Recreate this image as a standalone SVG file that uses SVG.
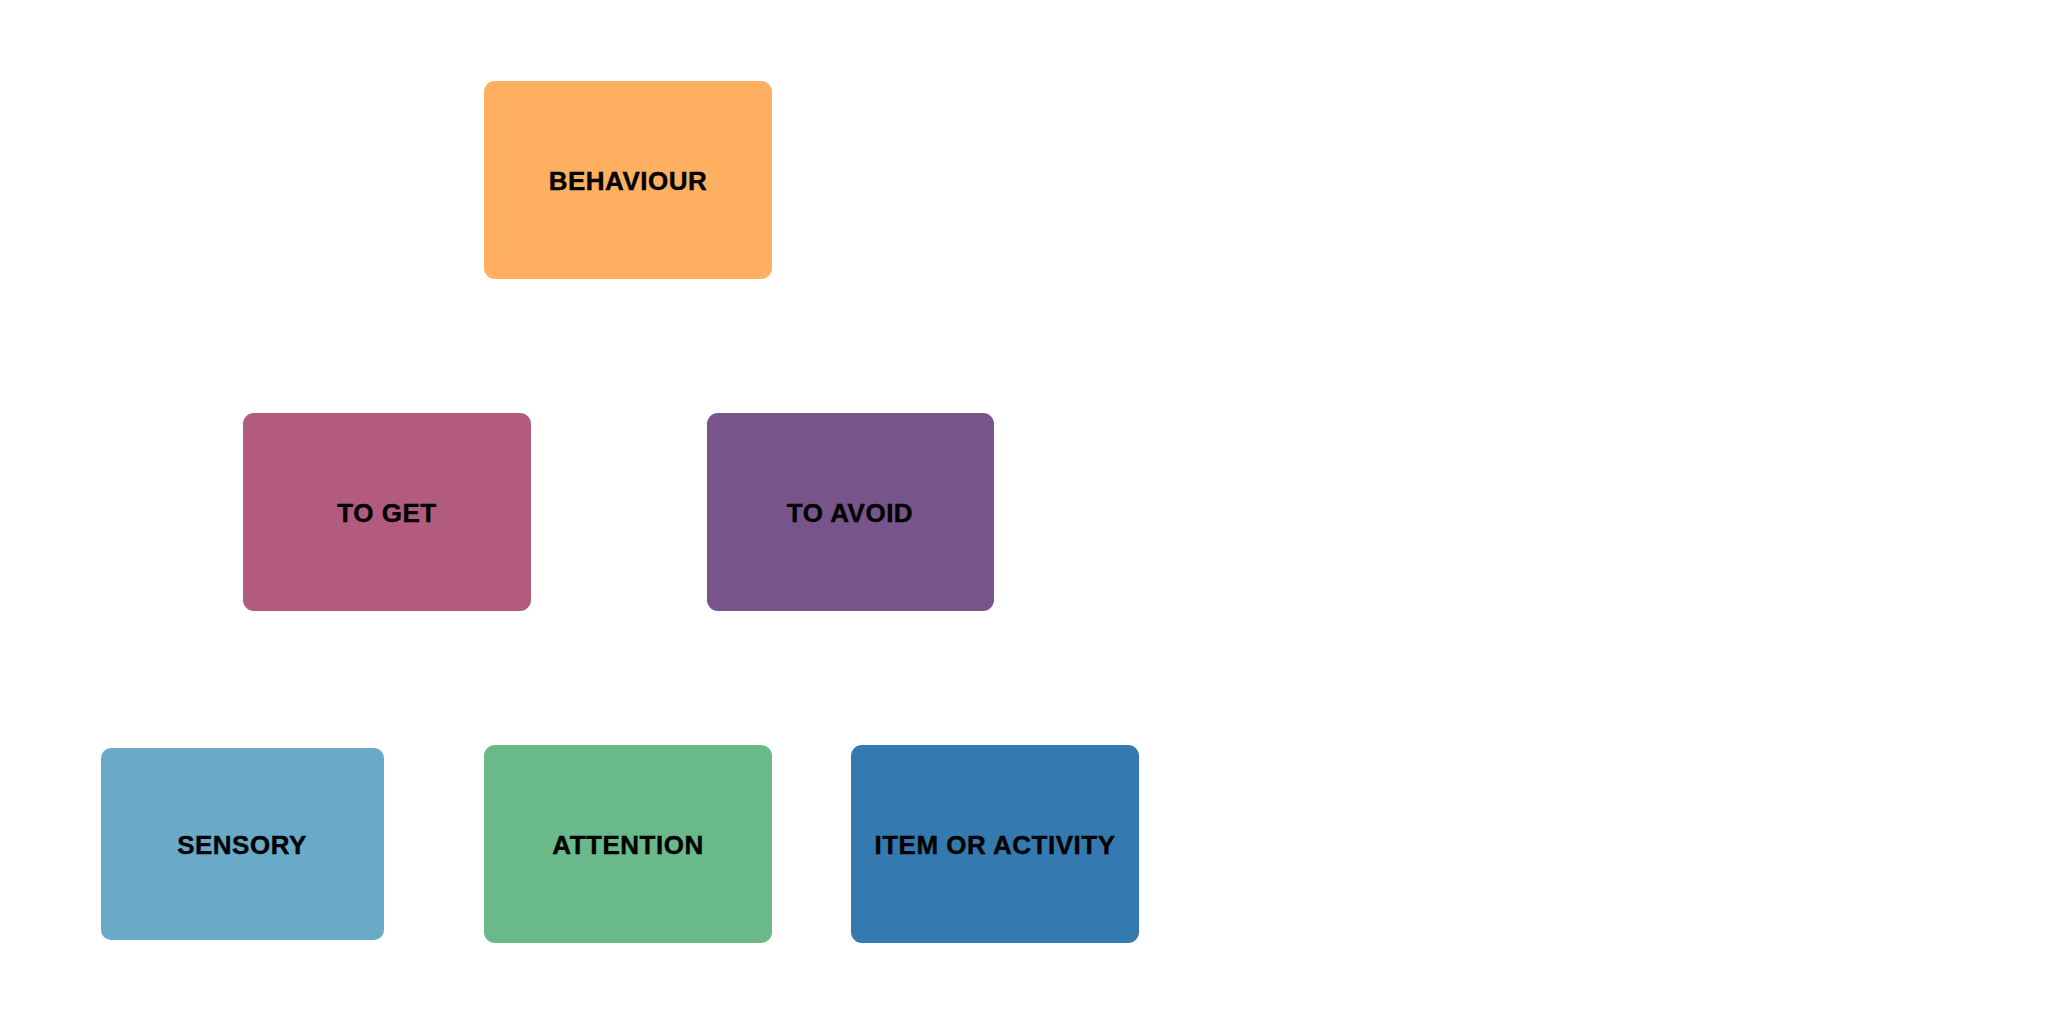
<svg xmlns="http://www.w3.org/2000/svg" width="2048" height="1024" viewBox="0 0 2048 1024">
  <style>
    .box { stroke: none; }
    .label { font-family: "Liberation Sans", Arial, sans-serif; font-weight: bold; font-size: 26px; letter-spacing: 0.5px; fill: #000; stroke: #000; stroke-width: 0.4; text-anchor: middle; }
  </style>
  <rect width="2048" height="1024" fill="#ffffff"/>
  <g id="connectors"></g>
  <g id="behaviour">
    <rect class="box" x="484" y="81" width="288" height="198" rx="11" fill="#FEAF5F"/>
    <text class="label" x="628" y="190">BEHAVIOUR</text>
  </g>
  <g id="to-get">
    <rect class="box" x="243" y="413" width="288" height="198" rx="11" fill="#B25B7E"/>
    <text class="label" x="387" y="522">TO GET</text>
  </g>
  <g id="to-avoid">
    <rect class="box" x="707" y="413" width="287" height="198" rx="11" fill="#77558B"/>
    <text class="label" x="850" y="522">TO AVOID</text>
  </g>
  <g id="sensory">
    <rect class="box" x="101" y="748" width="283" height="192" rx="10" fill="#68AAC7"/>
    <text class="label" x="242" y="854">SENSORY</text>
  </g>
  <g id="attention">
    <rect class="box" x="484" y="745" width="288" height="198" rx="11" fill="#69B98A"/>
    <text class="label" x="628" y="854">ATTENTION</text>
  </g>
  <g id="item-or-activity">
    <rect class="box" x="851" y="745" width="288" height="198" rx="11" fill="#347AB0"/>
    <text class="label" x="995" y="854">ITEM OR ACTIVITY</text>
  </g>
</svg>
